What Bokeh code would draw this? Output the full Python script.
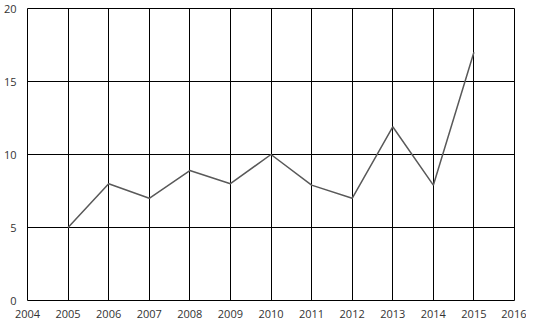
from bokeh.plotting import figure
from bokeh.models import FixedTicker, Range1d
from bokeh.embed import file_html
from bokeh.resources import INLINE

years = [2005, 2006, 2007, 2008, 2009, 2010, 2011, 2012, 2013, 2014, 2015]
values = [5, 8, 7, 8.9, 8, 10, 7.9, 7, 11.9, 7.9, 17]
x_ticks = list(range(2004, 2017))
y_ticks = [0, 5, 10, 15, 20]

p = figure(width=526, height=320, output_backend="svg", toolbar_location=None,
           x_range=Range1d(2004, 2016), y_range=Range1d(0, 20),
           min_border_left=0, min_border_right=12, min_border_top=8, min_border_bottom=0)
p.background_fill_color = "white"
p.border_fill_color = "white"
p.outline_line_color = "black"
p.outline_line_width = 1

p.line(years, values, line_color="#595959", line_width=1.5)

for ax, ticks in ((p.xaxis, x_ticks), (p.yaxis, y_ticks)):
    ax.ticker = FixedTicker(ticks=ticks)
    ax.axis_line_color = None
    ax.major_tick_line_color = None
    ax.minor_tick_line_color = None
    ax.major_label_text_font = "Open Sans"
    ax.major_label_text_font_size = "11px"
    ax.major_label_text_color = "#333333"
p.xaxis.major_label_standoff = 3
p.yaxis.major_label_standoff = 5

p.xgrid.ticker = FixedTicker(ticks=x_ticks)
p.ygrid.ticker = FixedTicker(ticks=y_ticks)
p.grid.grid_line_color = "black"
p.grid.grid_line_width = 1
p.grid.grid_line_alpha = 1

open("out.html", "w").write(file_html(p, INLINE))
